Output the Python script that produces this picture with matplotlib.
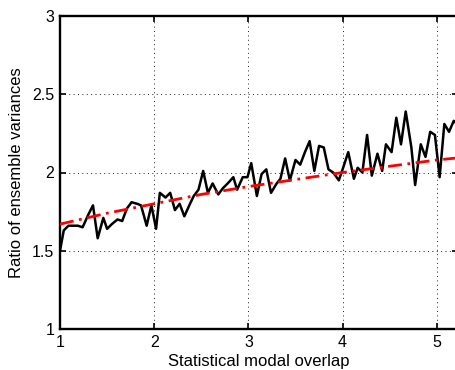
import numpy as np
import matplotlib
matplotlib.use('Agg')
import matplotlib.pyplot as plt
from matplotlib.ticker import FixedLocator

plt.rcParams['font.family'] = ['Liberation Sans', 'DejaVu Sans']

# modal overlap samples
overlap = [1.00, 1.04, 1.09, 1.14, 1.19, 1.24, 1.30, 1.35, 1.40, 1.46,
           1.50, 1.55, 1.61, 1.66, 1.71, 1.76, 1.82, 1.86, 1.92, 1.97,
           2.02, 2.06, 2.12, 2.17, 2.22, 2.27, 2.32, 2.38, 2.42, 2.47,
           2.52, 2.57, 2.62, 2.68, 2.73, 2.78, 2.84, 2.88, 2.94, 2.99,
           3.03, 3.09, 3.14, 3.19, 3.24, 3.30, 3.34, 3.39, 3.44, 3.50,
           3.55, 3.60, 3.65, 3.70, 3.75, 3.80, 3.85, 3.90, 3.96, 4.00,
           4.06, 4.12, 4.16, 4.21, 4.26, 4.31, 4.37, 4.42, 4.46, 4.52,
           4.57, 4.62, 4.67, 4.73, 4.77, 4.83, 4.88, 4.93, 4.98, 5.03,
           5.08, 5.13, 5.18, 5.23]
ratio = [1.50, 1.63, 1.66, 1.66, 1.66, 1.65, 1.73, 1.79, 1.58, 1.71,
         1.64, 1.67, 1.70, 1.69, 1.77, 1.81, 1.80, 1.79, 1.66, 1.79,
         1.64, 1.87, 1.84, 1.87, 1.76, 1.80, 1.72, 1.80, 1.85, 1.89,
         2.01, 1.87, 1.93, 1.86, 1.90, 1.93, 1.97, 1.89, 1.97, 1.97,
         2.06, 1.85, 1.99, 2.02, 1.87, 1.93, 1.96, 2.09, 1.95, 2.08,
         2.05, 2.13, 2.20, 2.01, 2.17, 2.16, 2.02, 2.00, 1.95, 2.02,
         2.13, 1.96, 2.03, 2.00, 2.24, 1.98, 2.12, 2.01, 2.18, 2.13,
         2.35, 2.18, 2.39, 2.16, 1.92, 2.18, 2.10, 2.26, 2.24, 1.97,
         2.31, 2.26, 2.33, 2.30]

# fitted trend
fit_x = [1.0, 1.5, 2.0, 2.5, 3.0, 3.5, 4.0, 4.5, 5.0, 5.5]
fit_y = [1.67, 1.74, 1.80, 1.86, 1.91, 1.955, 2.00, 2.04, 2.08, 2.11]

xticks = [1, 2, 3, 4, 5]
yticks = [1, 1.5, 2, 2.5, 3]
ytick_labels = ['1', '1.5', '2', '2.5', '3']

fig = plt.figure(figsize=(4.55, 3.70), dpi=100)
ax = fig.add_axes([60 / 455, 41 / 370, 398 / 455, 313 / 370])

ax.plot(overlap, ratio, color='black', lw=1.8, zorder=3)
ax.plot(fit_x, fit_y, color='red', lw=2.0, linestyle=(0, (5, 2, 1, 2)), zorder=4)

ax.set_xlim(1, 5.225)
ax.set_ylim(1, 3)
ax.xaxis.set_major_locator(FixedLocator(xticks))
ax.set_yticks(yticks)
ax.set_yticklabels(ytick_labels)

ax.grid(True, color='#222222', linestyle=(0, (1, 3.5)), lw=0.7)
ax.tick_params(direction='in', length=4, width=1.2, top=True, right=True,
               labelsize=11.5, pad=4)
for s in ax.spines.values():
    s.set_linewidth(1.7)

ax.set_xlabel('Statistical modal overlap', fontsize=12, labelpad=3)
ax.set_ylabel('Ratio of ensemble variances', fontsize=12, labelpad=6)

fig.savefig('out.png', dpi=100)
